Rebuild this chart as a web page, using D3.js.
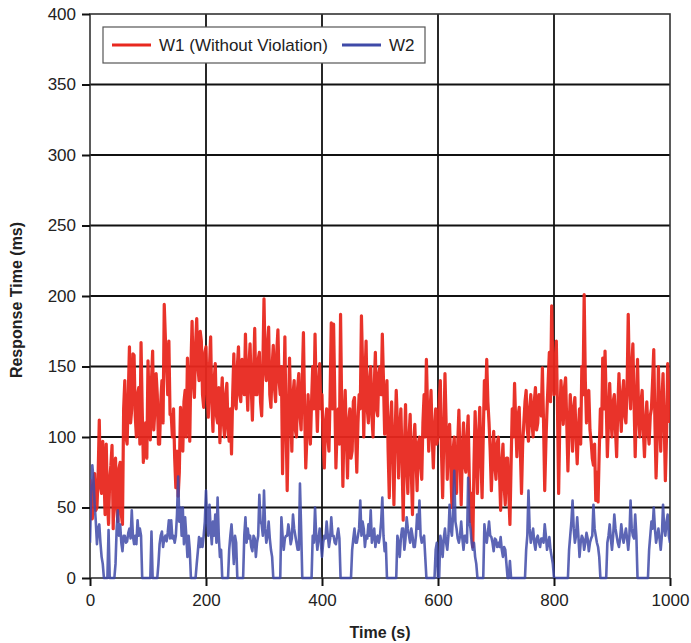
<!DOCTYPE html>
<html>
<head>
<meta charset="utf-8">
<script src="https://cdn.jsdelivr.net/npm/d3@7"></script>
<style>
  html, body { margin: 0; padding: 0; background: #fff; }
  svg { display: block; font-family: "Liberation Sans", Arial, sans-serif; }
</style>
</head>
<body>
<svg id="chart" width="691" height="643"></svg>
<script>
// Sampling interval of both response-time series, in seconds
const sampleStep = 2;

// W1 (Without Violation) response time, ms, one value every 2 s from t = 0 (rows of 20 s)
const w1Values = [
  70, 55, 42, 66, 74, 48, 50, 72, 112, 65,
  60, 97, 75, 45, 95, 55, 38, 70, 80, 94,
  35, 70, 85, 50, 40, 78, 82, 45, 38, 120,
  140, 100, 95, 130, 164, 110, 120, 159, 158, 115,
  100, 130, 135, 95, 167, 120, 82, 100, 110, 85,
  154, 120, 98, 140, 161, 105, 120, 145, 130, 95,
  95, 125, 140, 110, 194, 170, 150, 130, 168, 116,
  116, 100, 120, 85, 64, 90, 58, 75, 121, 100,
  90, 125, 133, 100, 156, 125, 97, 150, 182, 140,
  128, 165, 184, 150, 140, 175, 168, 130, 121, 160,
  164, 130, 114, 150, 171, 125, 104, 140, 152, 115,
  110, 135, 96, 125, 142, 110, 100, 130, 138, 105,
  97, 120, 88, 130, 159, 125, 120, 150, 164, 130,
  125, 155, 150, 130, 173, 140, 119, 150, 166, 135,
  112, 145, 177, 130, 130, 155, 160, 125, 115, 150,
  198, 150, 140, 165, 178, 130, 121, 150, 165, 135,
  125, 160, 176, 140, 130, 150, 74, 120, 171, 110,
  62, 110, 156, 120, 90, 130, 140, 105, 100, 135,
  145, 115, 105, 140, 174, 120, 78, 100, 130, 110,
  95, 125, 150, 120, 173, 130, 104, 135, 152, 120,
  130, 95, 78, 110, 120, 100, 90, 130, 181, 120,
  180, 130, 78, 105, 120, 95, 187, 120, 65, 110,
  133, 100, 71, 110, 120, 85, 90, 125, 128, 100,
  75, 110, 130, 120, 186, 150, 100, 140, 168, 120,
  110, 140, 150, 115, 100, 135, 160, 120, 115, 145,
  150, 130, 173, 140, 102, 125, 140, 90, 57, 110,
  125, 90, 52, 100, 133, 110, 71, 105, 120, 85,
  41, 90, 123, 80, 60, 100, 116, 75, 45, 95,
  109, 85, 62, 95, 100, 80, 70, 110, 130, 100,
  155, 120, 90, 115, 133, 100, 78, 105, 120, 95,
  100, 125, 140, 90, 57, 100, 145, 110, 70, 100,
  109, 80, 50, 90, 100, 70, 60, 95, 119, 85,
  52, 90, 110, 80, 75, 100, 115, 70, 40, 60,
  22, 80, 118, 90, 60, 100, 121, 85, 57, 100,
  140, 120, 155, 125, 110, 90, 62, 85, 104, 80,
  70, 95, 100, 75, 48, 80, 95, 65, 52, 85,
  85, 60, 38, 80, 120, 100, 138, 110, 86, 115,
  121, 90, 60, 95, 110, 125, 133, 105, 97, 120,
  130, 110, 100, 125, 135, 105, 110, 130, 128, 115,
  149, 110, 62, 95, 120, 140, 160, 125, 193, 150,
  130, 150, 168, 120, 60, 110, 140, 125, 109, 135,
  142, 110, 76, 105, 130, 115, 90, 120, 128, 100,
  81, 105, 120, 95, 150, 130, 201, 140, 110, 125,
  133, 105, 97, 85, 80, 95, 55, 75, 54, 90,
  120, 100, 156, 120, 161, 125, 86, 110, 138, 115,
  100, 125, 130, 105, 86, 120, 145, 120, 104, 130,
  140, 115, 110, 135, 187, 140, 120, 150, 166, 125,
  86, 120, 155, 115, 100, 125, 133, 105, 86, 110,
  125, 105, 95, 115, 120, 140, 162, 110, 71, 100,
  150, 120, 90, 125, 145, 110, 69, 100, 152, 130,
  110
];

// W2 response time, ms, same sampling
const w2Values = [
  25, 60, 80, 70, 52, 40, 24, 35, 38, 25,
  15, 10, 0, 0, 0, 0, 34, 0, 0, 0,
  0, 0, 10, 35, 48, 30, 38, 25, 19, 30,
  30, 25, 26, 32, 35, 28, 48, 30, 24, 30,
  24, 41, 30, 35, 30, 0, 0, 0, 0, 0,
  0, 0, 0, 33, 0, 0, 0, 0, 0, 10,
  24, 30, 33, 22, 28, 30, 26, 32, 41, 28,
  41, 28, 30, 25, 30, 45, 72, 40, 50, 30,
  50, 24, 43, 30, 15, 30, 20, 0, 0, 0,
  0, 0, 10, 19, 29, 22, 28, 22, 30, 40,
  62, 40, 30, 52, 35, 24, 40, 30, 45, 25,
  57, 30, 15, 20, 0, 0, 0, 0, 0, 0,
  20, 30, 38, 25, 10, 30, 25, 0, 0, 0,
  0, 0, 0, 30, 43, 25, 35, 28, 30, 22,
  19, 30, 28, 15, 25, 30, 59, 40, 38, 30,
  62, 35, 25, 30, 40, 28, 20, 15, 0, 0,
  0, 0, 0, 0, 0, 43, 30, 20, 28, 30,
  30, 38, 32, 24, 28, 45, 35, 30, 25, 20,
  20, 67, 35, 0, 0, 0, 0, 0, 0, 0,
  0, 0, 30, 25, 50, 30, 20, 28, 35, 25,
  15, 25, 30, 28, 40, 30, 22, 28, 43, 30,
  30, 25, 24, 30, 35, 28, 0, 0, 0, 0,
  0, 0, 0, 0, 0, 0, 20, 28, 35, 25,
  25, 30, 35, 55, 30, 40, 35, 22, 30, 28,
  38, 30, 48, 25, 30, 35, 22, 28, 30, 25,
  30, 40, 57, 30, 19, 25, 0, 0, 0, 0,
  0, 0, 0, 0, 0, 30, 25, 15, 28, 35,
  35, 20, 28, 43, 35, 30, 25, 35, 30, 22,
  22, 30, 45, 35, 55, 30, 25, 28, 30, 15,
  0, 0, 0, 0, 0, 0, 0, 0, 20, 25,
  0, 0, 30, 25, 15, 28, 35, 25, 20, 30,
  52, 35, 30, 45, 76, 40, 35, 28, 25, 30,
  40, 28, 20, 30, 30, 25, 71, 40, 35, 25,
  20, 25, 15, 10, 0, 0, 0, 0, 0, 0,
  38, 30, 25, 32, 40, 30, 29, 25, 19, 28,
  27, 22, 25, 22, 29, 20, 15, 22, 20, 10,
  0, 0, 12, 0, 0, 0, 0, 0, 0, 0,
  0, 0, 0, 0, 0, 0, 20, 30, 62, 35,
  25, 30, 35, 25, 20, 28, 30, 25, 22, 28,
  28, 25, 38, 30, 20, 25, 29, 20, 15, 10,
  0, 0, 0, 0, 0, 0, 0, 0, 0, 0,
  0, 0, 0, 20, 30, 40, 55, 35, 25, 30,
  43, 30, 15, 25, 30, 28, 20, 25, 32, 28,
  19, 25, 28, 30, 52, 35, 30, 25, 22, 15,
  0, 0, 0, 0, 0, 0, 25, 30, 38, 28,
  20, 30, 45, 35, 30, 25, 22, 28, 38, 30,
  25, 30, 35, 28, 20, 30, 55, 35, 30, 28,
  45, 30, 0, 0, 0, 0, 0, 0, 0, 0,
  0, 0, 20, 30, 40, 35, 50, 35, 25, 30,
  35, 28, 20, 30, 52, 35, 30, 40, 45, 30,
  25
];

const xTicks = [0, 200, 400, 600, 800, 1000];
const yTicks = [0, 50, 100, 150, 200, 250, 300, 350, 400];
const seriesNames = ["W1 (Without Violation)", "W2"];
const seriesColors = ["#e8281f", "#3f4aa8"];

const svg = d3.select("#chart");
const plot = { left: 90, right: 670, top: 14, bottom: 578 };

const x = d3.scaleLinear().domain([0, 1000]).range([plot.left, plot.right]);
const y = d3.scaleLinear().domain([0, 400]).range([plot.bottom, plot.top]);

// Grid
const grid = svg.append("g");
grid.selectAll("line.h").data(yTicks.filter(v => v > 0 && v < 400)).join("line")
  .attr("x1", plot.left).attr("x2", plot.right)
  .attr("y1", d => y(d)).attr("y2", d => y(d))
  .attr("stroke", "#111").attr("stroke-width", 1.8);
grid.selectAll("line.v").data(xTicks.filter(v => v > 0 && v < 1000)).join("line")
  .attr("y1", plot.top).attr("y2", plot.bottom)
  .attr("x1", d => x(d)).attr("x2", d => x(d))
  .attr("stroke", "#111").attr("stroke-width", 1.8);

// Plot frame
svg.append("rect")
  .attr("x", plot.left).attr("y", plot.top)
  .attr("width", plot.right - plot.left).attr("height", plot.bottom - plot.top)
  .attr("fill", "none").attr("stroke", "#333").attr("stroke-width", 1.6);

// Series, clipped to the plot box
svg.append("clipPath").attr("id", "plotClip")
  .append("rect")
  .attr("x", plot.left).attr("y", plot.top)
  .attr("width", plot.right - plot.left).attr("height", plot.bottom - plot.top + 2);

const line = d3.line()
  .x((d, i) => x(i * sampleStep))
  .y(d => y(d));

const series = svg.append("g").attr("clip-path", "url(#plotClip)");

series.append("path").datum(w1Values)
  .attr("d", line)
  .attr("fill", "none")
  .attr("stroke", seriesColors[0])
  .attr("stroke-width", 3.2)
  .attr("stroke-linejoin", "round")
  .attr("stroke-opacity", 0.95);

series.append("path").datum(w2Values)
  .attr("d", line)
  .attr("fill", "none")
  .attr("stroke", seriesColors[1])
  .attr("stroke-width", 2.6)
  .attr("stroke-linejoin", "round")
  .attr("stroke-opacity", 0.85);

// Axes
const yAxis = d3.axisLeft(y).tickValues(yTicks).tickSize(8).tickPadding(6);
const gy = svg.append("g").attr("transform", `translate(${plot.left},0)`).call(yAxis);
const xAxis = d3.axisBottom(x).tickValues(xTicks).tickFormat(d3.format("d"))
  .tickSize(8).tickPadding(8);
const gx = svg.append("g").attr("transform", `translate(0,${plot.bottom})`).call(xAxis);
[gx, gy].forEach(g => {
  g.select(".domain").remove();
  g.selectAll(".tick line").attr("stroke", "#111").attr("stroke-width", 2);
  g.selectAll(".tick text")
    .attr("fill", "#222")
    .style("font-size", "17px")
    .style("font-family", "'Liberation Sans', Arial, sans-serif");
});

// Axis titles
svg.append("text")
  .attr("x", x(500)).attr("y", 638)
  .attr("text-anchor", "middle")
  .attr("font-weight", "bold").attr("font-size", 16).attr("fill", "#222")
  .text("Time (s)");

svg.append("text")
  .attr("transform", `translate(22,${(plot.top + plot.bottom) / 2 + 4}) rotate(-90)`)
  .attr("text-anchor", "middle")
  .attr("font-weight", "bold").attr("font-size", 16).attr("fill", "#222")
  .text("Response Time (ms)");

// Legend
const legend = svg.append("g");
legend.append("rect")
  .attr("x", 103).attr("y", 27).attr("width", 322).attr("height", 36)
  .attr("fill", "#fff").attr("stroke", "#555").attr("stroke-width", 1.2);
const legendItems = [
  { name: seriesNames[0], color: seriesColors[0], x0: 112 },
  { name: seriesNames[1], color: seriesColors[1], x0: 342 }
];
legendItems.forEach(it => {
  legend.append("line")
    .attr("x1", it.x0).attr("x2", it.x0 + 39)
    .attr("y1", 45).attr("y2", 45)
    .attr("stroke", it.color).attr("stroke-width", 3);
  legend.append("text")
    .attr("x", it.x0 + 47).attr("y", 51)
    .attr("font-size", 17).attr("fill", "#222")
    .text(it.name);
});
</script>
</body>
</html>
